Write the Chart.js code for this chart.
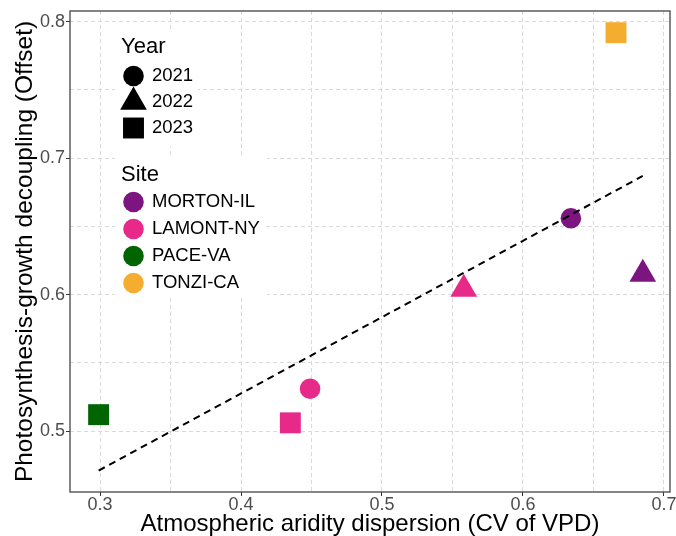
<!DOCTYPE html>
<html>
<head>
<meta charset="utf-8">
<title>Offset vs CV of VPD</title>
<script src="https://cdn.jsdelivr.net/npm/chart.js@4.4.1/dist/chart.umd.min.js"></script>
<style>
  html, body { margin: 0; padding: 0; background: #fff; }
  #wrap { width: 676px; height: 536px; position: relative; }
</style>
</head>
<body>
<div id="wrap"><canvas id="chart"></canvas></div>
<script>
// Data
const sites = ['MORTON-IL', 'LAMONT-NY', 'PACE-VA', 'TONZI-CA'];
const years = ['2021', '2022', '2023'];

const pointSite = ['MORTON-IL', 'MORTON-IL', 'LAMONT-NY', 'LAMONT-NY', 'LAMONT-NY', 'PACE-VA', 'TONZI-CA'];
const pointYear = ['2021', '2022', '2021', '2022', '2023', '2023', '2023'];
const cvVPD = [0.634, 0.685, 0.449, 0.558, 0.435, 0.299, 0.666];
const offsetVal = [0.656, 0.615, 0.531, 0.604, 0.506, 0.512, 0.792];

// fitted line (lm), endpoints
const fitX = [0.299, 0.685];
const fitY = [0.471, 0.687];

const xTickValues = [0.3, 0.4, 0.5, 0.6, 0.7];
const xTickLabels = ['0.3', '0.4', '0.5', '0.6', '0.7'];
const xMinorValues = [0.35, 0.45, 0.55, 0.65];
const yTickValues = [0.5, 0.6, 0.7, 0.8];
const yTickLabels = ['0.5', '0.6', '0.7', '0.8'];
const yMinorValues = [0.55, 0.65, 0.75];

// Styles
const siteColors = {
    'MORTON-IL': '#7d1580',
    'LAMONT-NY': '#e7298a',
    'PACE-VA': '#006400',
    'TONZI-CA': '#f5ad2f',
};
const yearShapes = { '2021': 'circle', '2022': 'triangle', '2023': 'rect' };
const shapeRadius = { circle: 10.3, triangle: 15.4, rect: 14.8 };

const FONT = "'Liberation Sans', Arial, Helvetica, sans-serif";
Chart.defaults.font.family = FONT;
Chart.defaults.color = '#4d4d4d';

const gridGrey = '#d9d9d9';

function drawShape(ctx, shape, x, y, r) {
    ctx.beginPath();
    if (shape === 'circle') {
        ctx.arc(x, y, r, 0, Math.PI * 2);
    } else if (shape === 'triangle') {
        ctx.moveTo(x, y - r);
        ctx.lineTo(x + r * Math.sin(2 * Math.PI / 3), y + r * 0.5);
        ctx.lineTo(x - r * Math.sin(2 * Math.PI / 3), y + r * 0.5);
        ctx.closePath();
    } else {
        const s = Math.SQRT1_2 * r;
        ctx.rect(x - s, y - s, 2 * s, 2 * s);
    }
    ctx.fill();
}

// panel border + legends drawn inside the plot
const panelPlugin = {
    id: 'panel',
    afterDraw(chart) {
        const { ctx, chartArea: a } = chart;
        ctx.save();

        // legend backgrounds hide the grid
        ctx.fillStyle = '#fff';
        ctx.fillRect(115, 30, 83, 117);
        ctx.fillRect(115, 155, 152, 141);

        ctx.fillStyle = '#000';
        ctx.textAlign = 'left';
        ctx.textBaseline = 'alphabetic';
        ctx.font = '22px ' + FONT;
        ctx.fillText('Year', 121, 52.5);
        ctx.fillText('Site', 121, 180.5);

        ctx.font = '18.5px ' + FONT;
        ctx.textBaseline = 'middle';
        const yearRows = [76, 102, 128];
        years.forEach((yr, i) => {
            const shape = yearShapes[yr];
            ctx.fillStyle = '#000';
            drawShape(ctx, shape, 133.5, yearRows[i], shapeRadius[shape]);
            ctx.fillText(yr, 152, yearRows[i]);
        });

        const siteRows = [202, 229, 256, 283];
        sites.forEach((s, i) => {
            ctx.fillStyle = siteColors[s];
            drawShape(ctx, 'circle', 133.5, siteRows[i], shapeRadius.circle);
            ctx.fillStyle = '#000';
            ctx.fillText(s, 152, siteRows[i]);
        });

        // panel border
        ctx.strokeStyle = '#444';
        ctx.lineWidth = 1.3;
        ctx.strokeRect(a.left, a.top, a.right - a.left, a.bottom - a.top);
        ctx.restore();
    },
};

const isIn = (list, v) => list.some(t => Math.abs(t - v) < 1e-9);

const pointDatasets = sites.map(site => {
    const idx = pointSite.map((s, i) => (s === site ? i : -1)).filter(i => i >= 0);
    const shapes = idx.map(i => yearShapes[pointYear[i]]);
    return {
        label: site,
        data: idx.map(i => ({ x: cvVPD[i], y: offsetVal[i] })),
        pointStyle: shapes,
        pointRadius: shapes.map(s => shapeRadius[s]),
        backgroundColor: siteColors[site],
        borderWidth: 0,
        pointBorderWidth: 0,
        showLine: false,
    };
});

const fitDataset = {
    label: 'fit',
    data: fitX.map((x, i) => ({ x, y: fitY[i] })),
    showLine: true,
    borderColor: '#000',
    borderWidth: 2,
    borderDash: [7, 5],
    pointRadius: 0,
    fill: false,
};

// keep Chart.js from adding label overflow padding, so the plot box is fixed
const noPad = scale => {
    scale.paddingLeft = 0;
    scale.paddingRight = 0;
    scale.paddingTop = 0;
    scale.paddingBottom = 0;
};

new Chart(document.getElementById('chart'), {
    type: 'scatter',
    data: { datasets: [fitDataset, ...pointDatasets] },
    options: {
        responsive: true,
        maintainAspectRatio: false,
        animation: false,
        events: [],
        layout: { autoPadding: false, padding: { top: 11, right: 6, left: 0, bottom: 0 } },
        plugins: {
            legend: { display: false },
            tooltip: { enabled: false },
        },
        scales: {
            x: {
                type: 'linear',
                min: 0.2787,
                max: 0.7043,
                afterBuildTicks: axis => {
                    axis.ticks = [...xTickValues, ...xMinorValues].sort((a, b) => a - b).map(v => ({ value: v }));
                },
                afterFit: scale => { scale.height = 44; noPad(scale); },
                border: { display: false, dash: [4, 3] },
                grid: {
                    color: gridGrey,
                    lineWidth: 1,
                    tickLength: 4,
                    tickWidth: 1,
                    tickColor: c => (isIn(xTickValues, c.tick.value) ? '#333' : 'rgba(0,0,0,0)'),
                },
                ticks: {
                    autoSkip: false,
                    maxRotation: 0,
                    padding: 0,
                    color: '#4d4d4d',
                    font: { size: 18, lineHeight: 1 },
                    callback: value => {
                        const k = xTickValues.findIndex(t => Math.abs(t - value) < 1e-9);
                        return k >= 0 ? xTickLabels[k] : '';
                    },
                },
                title: {
                    display: true,
                    text: 'Atmospheric aridity dispersion (CV of VPD)',
                    color: '#000',
                    font: { size: 24, lineHeight: 1 },
                    padding: { top: 0, bottom: 0 },
                },
            },
            y: {
                type: 'linear',
                min: 0.4553,
                max: 0.8079,
                afterBuildTicks: axis => {
                    axis.ticks = [...yTickValues, ...yMinorValues].sort((a, b) => a - b).map(v => ({ value: v }));
                },
                afterFit: scale => { scale.width = 70; noPad(scale); },
                border: { display: false, dash: [4, 3] },
                grid: {
                    color: gridGrey,
                    lineWidth: 1,
                    tickLength: 4,
                    tickWidth: 1,
                    tickColor: c => (isIn(yTickValues, c.tick.value) ? '#333' : 'rgba(0,0,0,0)'),
                },
                ticks: {
                    autoSkip: false,
                    padding: 1,
                    color: '#4d4d4d',
                    font: { size: 18 },
                    callback: value => {
                        const k = yTickValues.findIndex(t => Math.abs(t - value) < 1e-9);
                        return k >= 0 ? yTickLabels[k] : '';
                    },
                },
                title: {
                    display: true,
                    text: 'Photosynthesis-growth decoupling (Offset)',
                    color: '#000',
                    font: { size: 24.5, lineHeight: 1 },
                    padding: { top: 13, bottom: 0 },
                },
            },
        },
    },
    plugins: [panelPlugin],
});
</script>
</body>
</html>
